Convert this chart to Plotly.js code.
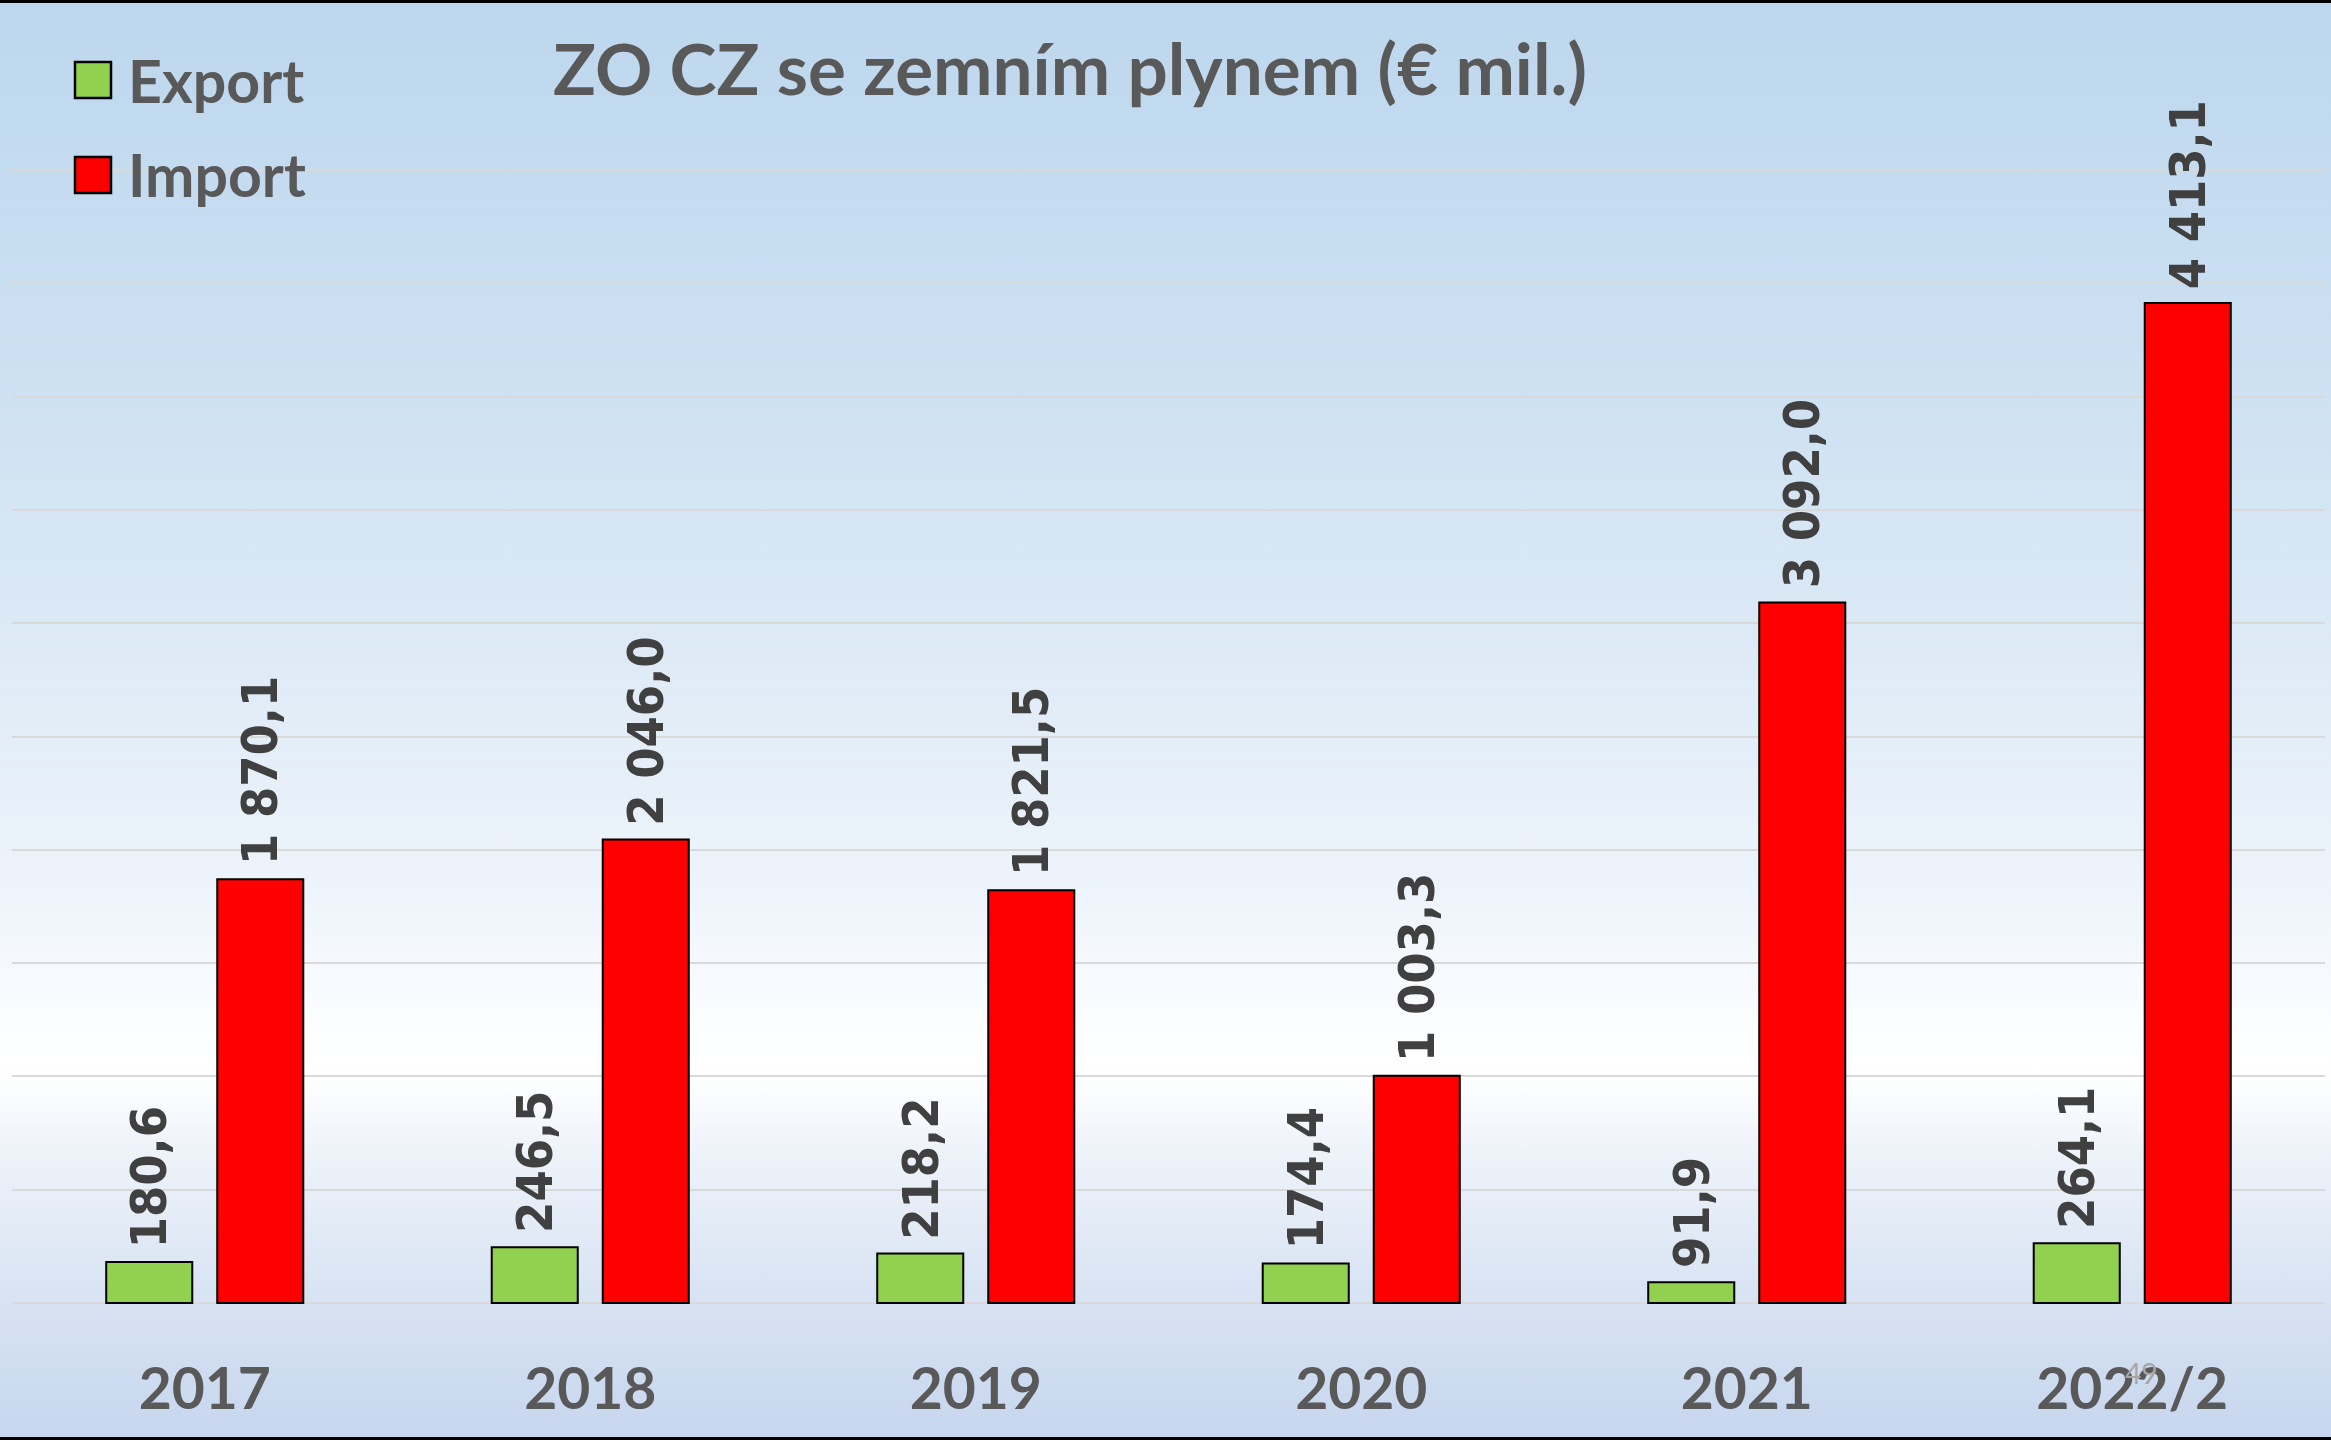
<!DOCTYPE html>
<html>
<head>
<meta charset="utf-8">
<script src="https://cdn.plot.ly/plotly-3.0.1.min.js"></script>
<style>
  html, body { margin: 0; padding: 0; }
  #chart {
    position: relative;
    width: 2331px;
    height: 1440px;
    background: linear-gradient(to bottom,
      #BDD7EE 0%, #CCE0F2 25%, #DDEAF6 45%, #EEF4FB 62%,
      #FBFDFF 71%, #FFFFFF 74.5%, #EEF3FA 80%, #DCE6F4 88%, #C6D6EE 100%);
    box-shadow: inset 0 3px 0 #000, inset 0 -3px 0 #000;
  }
</style>
</head>
<body>
<div id="chart"></div>
<script>
// Zahraniční obchod ČR se zemním plynem, mil. EUR
const years = ['2017', '2018', '2019', '2020', '2021', '2022/2'];
const exportVals = [180.6, 246.5, 218.2, 174.4, 91.9, 264.1];
const importVals = [1870.1, 2046.0, 1821.5, 1003.3, 3092.0, 4413.1];
const seriesNames = ['Export', 'Import'];
const seriesColors = ['#92D050', '#FF0000'];

const W = 2331, H = 1440;
const M = { l: 12, r: 6, t: 166, b: 132 };
const BARGAP = 0.424, BARGROUPGAP = 0.225;

// Czech number format: space as thousands separator, comma as decimal mark
function fmt(v) {
  const parts = v.toFixed(1).split('.');
  const intPart = parts[0].replace(/\B(?=(\d{3})+(?!\d))/g, ' ');
  return intPart + ',' + parts[1];
}

// pixel -> paper coordinates
const plotW = W - M.l - M.r, plotH = H - M.t - M.b;
const px = x => (x - M.l) / plotW;
const py = y => 1 - (y - M.t) / plotH;

const traces = [exportVals, importVals].map((vals, i) => ({
  type: 'bar',
  name: seriesNames[i],
  x: years,
  y: vals,
  marker: { color: seriesColors[i], line: { color: '#000000', width: 2 } },
  hoverinfo: 'x+y',
  showlegend: false
}));

// value labels above the bars, rotated
const offset = (1 - BARGAP) / 4;
const annotations = [];
[exportVals, importVals].forEach((vals, s) => {
  vals.forEach((v, i) => {
    annotations.push({
      x: i + (s === 0 ? -offset : offset),
      y: v,
      xref: 'x', yref: 'y',
      text: fmt(v),
      textangle: -90,
      showarrow: false,
      xanchor: 'center',
      yanchor: 'bottom',
      yshift: 12,
      font: { family: 'DejaVu Sans Condensed, DejaVu Sans', size: 50, color: '#404040', weight: 'bold' }
    });
  });
});

// legend
const legendRows = [80, 175];
const shapes = [];
seriesNames.forEach((name, i) => {
  const cy = legendRows[i];
  shapes.push({
    type: 'rect', xref: 'paper', yref: 'paper',
    x0: px(75), x1: px(111), y0: py(cy - 18), y1: py(cy + 18),
    fillcolor: seriesColors[i],
    line: { color: '#000000', width: 2.5 }
  });
  annotations.push({
    xref: 'paper', yref: 'paper',
    x: px(126), y: py(cy),
    xanchor: 'left', yanchor: 'middle',
    text: name, showarrow: false,
    font: { family: 'Lato', size: 59, color: '#595959', weight: 'bold' }
  });
});

// slide number
annotations.push({
  xref: 'paper', yref: 'paper',
  x: px(2141), y: py(1373),
  xanchor: 'center', yanchor: 'middle',
  text: '49', showarrow: false,
  font: { family: 'Lato', size: 28, color: '#A6A6A6' }
});

const layout = {
  width: W, height: H,
  margin: M,
  paper_bgcolor: 'rgba(0,0,0,0)',
  plot_bgcolor: 'rgba(0,0,0,0)',
  barmode: 'group',
  bargap: BARGAP,
  bargroupgap: BARGROUPGAP,
  showlegend: false,
  title: {
    text: 'ZO CZ se zemním plynem (€ mil.)',
    xref: 'container', yref: 'container',
    x: 1070 / W, xanchor: 'center',
    y: 1 - 70 / H, yanchor: 'middle',
    font: { family: 'Lato', size: 71, color: '#595959', weight: 'bold' }
  },
  xaxis: {
    type: 'category',
    showgrid: false,
    zeroline: false,
    showline: false,
    ticks: '',
    ticklabelstandoff: 43,
    tickfont: { family: 'Lato', size: 57, color: '#595959', weight: 'bold' }
  },
  yaxis: {
    range: [-22, 5018],
    tick0: 0,
    dtick: 500,
    showgrid: true,
    gridcolor: '#D9D9D9',
    gridwidth: 2,
    zeroline: false,
    showticklabels: false,
    ticks: ''
  },
  shapes: shapes,
  annotations: annotations
};

Plotly.newPlot('chart', traces, layout, { displayModeBar: false, staticPlot: true });
</script>
</body>
</html>
